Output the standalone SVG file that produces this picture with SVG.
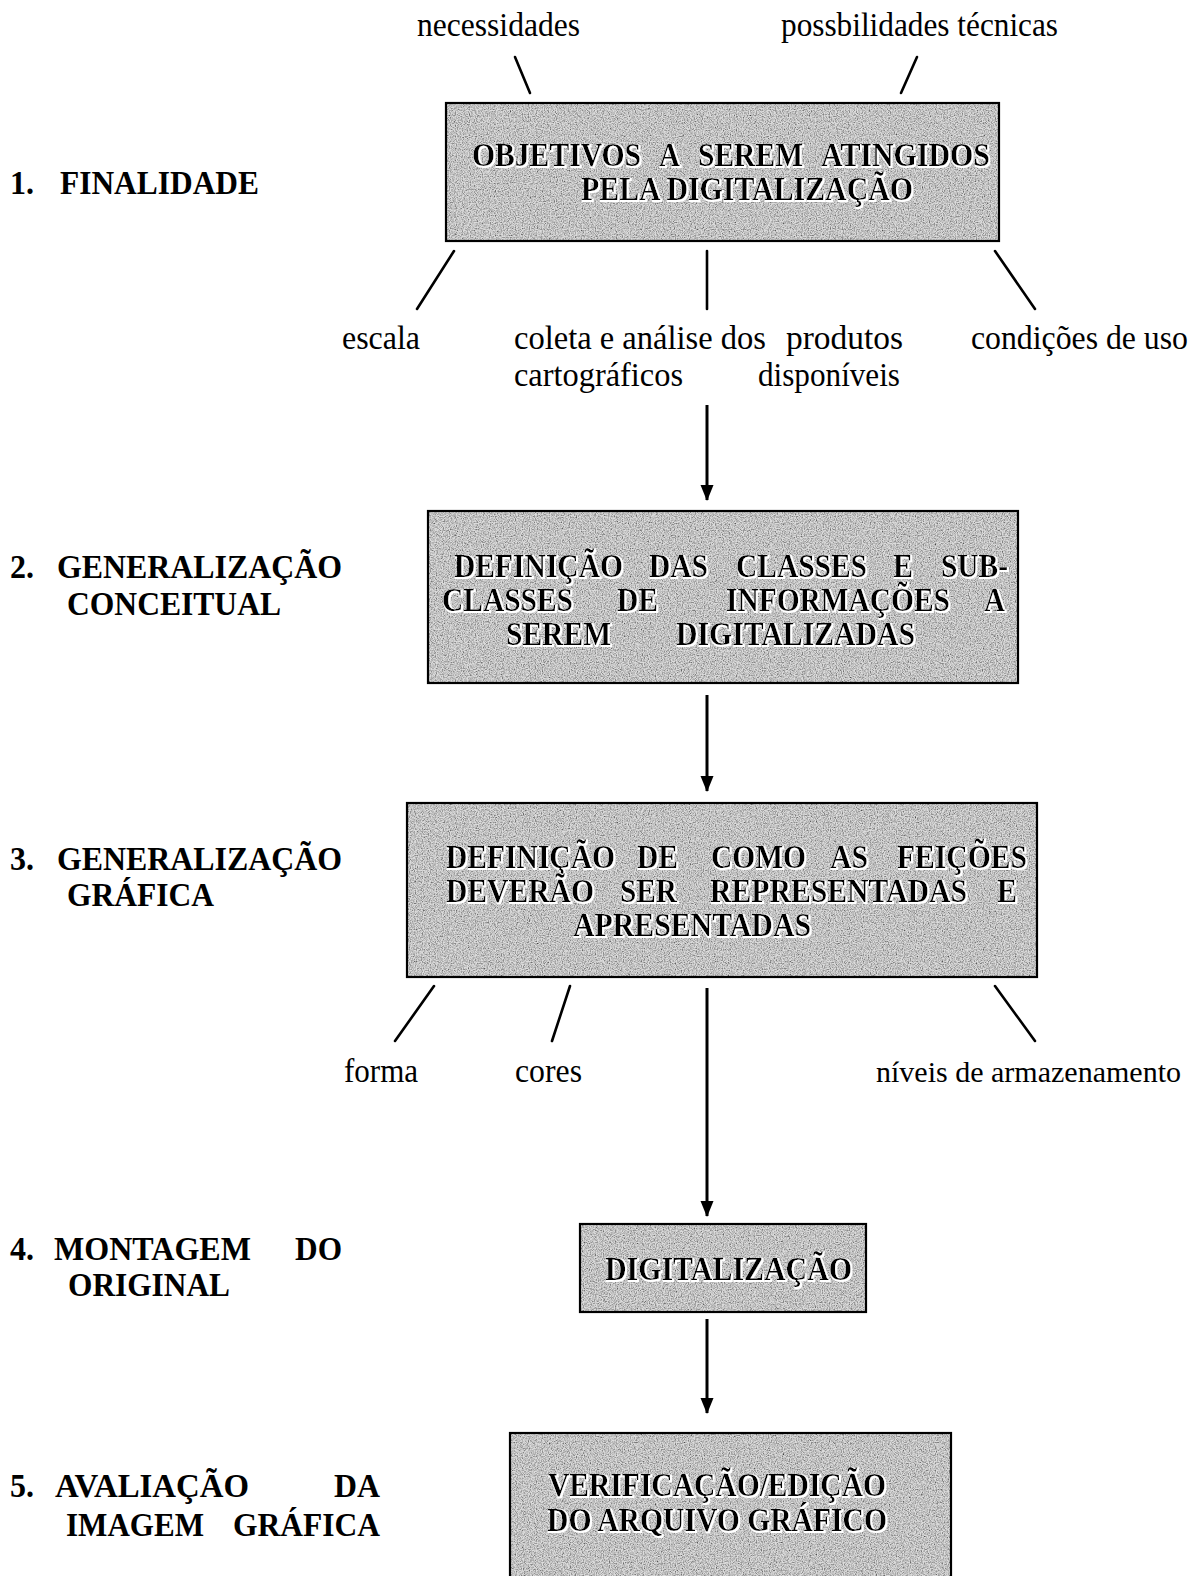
<svg xmlns="http://www.w3.org/2000/svg" width="1198" height="1576" viewBox="0 0 1198 1576">
<style>
.lbl{font-family:"Liberation Serif","Times New Roman",serif;font-weight:bold;font-size:33px;fill:#000}
.box{font-family:"Liberation Serif","Times New Roman",serif;font-weight:bold;font-size:33px;fill:#000;filter:url(#emb)}
.sm{font-family:"Liberation Serif","Times New Roman",serif;font-size:33px;fill:#000}
.bg{fill:#dcdcdc;stroke:none;filter:url(#grain)}
.bd{fill:none;stroke:#000;stroke-width:2.2}
.ln{stroke:#000;stroke-width:2.6;fill:none;stroke-linecap:round}
.ar{stroke:#000;stroke-width:3;fill:none;marker-end:url(#ah)}
</style>
<defs>
<marker id="ah" markerUnits="userSpaceOnUse" markerWidth="16" markerHeight="16" viewBox="0 0 16 16" refX="15" refY="8" orient="auto">
<path d="M0,1.5 L16,8 L0,14.5 Z" fill="#000"/>
</marker>
<filter id="grain" x="0" y="0" width="1" height="1">
<feTurbulence type="fractalNoise" baseFrequency="0.85" numOctaves="2" seed="4" result="t"/>
<feColorMatrix in="t" type="matrix" values="0 0 0 0 0  0 0 0 0 0  0 0 0 0 0  1.7 0 0 0 -0.6" result="dots"/>
<feComposite in="dots" in2="SourceGraphic" operator="atop"/>
</filter>
<filter id="emb" x="-5%" y="-20%" width="110%" height="140%">
<feMorphology in="SourceAlpha" operator="dilate" radius="1" result="d"/>
<feOffset in="d" dx="1.2" dy="1.2" result="o"/>
<feFlood flood-color="#ffffff"/>
<feComposite in2="o" operator="in" result="w"/>
<feMerge><feMergeNode in="w"/><feMergeNode in="SourceGraphic"/></feMerge>
</filter>
</defs>
<rect width="1198" height="1576" fill="#fff"/>

<g id="labels-left">
<text class="lbl" y="194"><tspan x="10" textLength="24" lengthAdjust="spacingAndGlyphs">1.</tspan><tspan x="60" textLength="199" lengthAdjust="spacingAndGlyphs">FINALIDADE</tspan></text>
<text class="lbl" y="578"><tspan x="10" textLength="24" lengthAdjust="spacingAndGlyphs">2.</tspan><tspan x="57" textLength="285" lengthAdjust="spacingAndGlyphs">GENERALIZAÇÃO</tspan></text>
<text class="lbl" x="67" y="615" textLength="214" lengthAdjust="spacingAndGlyphs">CONCEITUAL</text>
<text class="lbl" y="870"><tspan x="10" textLength="24" lengthAdjust="spacingAndGlyphs">3.</tspan><tspan x="57" textLength="285" lengthAdjust="spacingAndGlyphs">GENERALIZAÇÃO</tspan></text>
<text class="lbl" x="67" y="906" textLength="147" lengthAdjust="spacingAndGlyphs">GRÁFICA</text>
<text class="lbl" y="1260"><tspan x="10" textLength="24" lengthAdjust="spacingAndGlyphs">4.</tspan><tspan x="54" textLength="197" lengthAdjust="spacingAndGlyphs">MONTAGEM</tspan><tspan x="295" textLength="47" lengthAdjust="spacingAndGlyphs">DO</tspan></text>
<text class="lbl" x="68" y="1296" textLength="162" lengthAdjust="spacingAndGlyphs">ORIGINAL</text>
<text class="lbl" y="1497"><tspan x="10" textLength="24" lengthAdjust="spacingAndGlyphs">5.</tspan><tspan x="55" textLength="194" lengthAdjust="spacingAndGlyphs">AVALIAÇÃO</tspan><tspan x="334" textLength="46" lengthAdjust="spacingAndGlyphs">DA</tspan></text>
<text class="lbl" y="1536"><tspan x="66" textLength="138" lengthAdjust="spacingAndGlyphs">IMAGEM</tspan><tspan x="233" textLength="147" lengthAdjust="spacingAndGlyphs">GRÁFICA</tspan></text>
</g>

<g id="node-objetivos">
<rect class="bg" x="446" y="103" width="553" height="138"/>
<rect class="bd" x="446" y="103" width="553" height="138"/>
<text class="box" y="166"><tspan x="472" textLength="169" lengthAdjust="spacingAndGlyphs">OBJETIVOS</tspan><tspan x="659" textLength="21" lengthAdjust="spacingAndGlyphs">A</tspan><tspan x="698" textLength="105" lengthAdjust="spacingAndGlyphs">SEREM</tspan><tspan x="821" textLength="169" lengthAdjust="spacingAndGlyphs">ATINGIDOS</tspan></text>
<text class="box" x="581" y="200" textLength="332" lengthAdjust="spacingAndGlyphs">PELA DIGITALIZAÇÃO</text>
</g>

<g id="node-classes">
<rect class="bg" x="428" y="511" width="590" height="172"/>
<rect class="bd" x="428" y="511" width="590" height="172"/>
<text class="box" y="577"><tspan x="454" textLength="169" lengthAdjust="spacingAndGlyphs">DEFINIÇÃO</tspan><tspan x="649" textLength="59" lengthAdjust="spacingAndGlyphs">DAS</tspan><tspan x="736" textLength="131" lengthAdjust="spacingAndGlyphs">CLASSES</tspan><tspan x="893" textLength="20" lengthAdjust="spacingAndGlyphs">E</tspan><tspan x="941" textLength="67" lengthAdjust="spacingAndGlyphs">SUB-</tspan></text>
<text class="box" y="611"><tspan x="442" textLength="131" lengthAdjust="spacingAndGlyphs">CLASSES</tspan><tspan x="617" textLength="41" lengthAdjust="spacingAndGlyphs">DE</tspan><tspan x="726" textLength="224" lengthAdjust="spacingAndGlyphs">INFORMAÇÕES</tspan><tspan x="984" textLength="21" lengthAdjust="spacingAndGlyphs">A</tspan></text>
<text class="box" y="645"><tspan x="506" textLength="105" lengthAdjust="spacingAndGlyphs">SEREM</tspan><tspan x="676" textLength="239" lengthAdjust="spacingAndGlyphs">DIGITALIZADAS</tspan></text>
</g>

<g id="node-feicoes">
<rect class="bg" x="407" y="803" width="630" height="174"/>
<rect class="bd" x="407" y="803" width="630" height="174"/>
<text class="box" y="868"><tspan x="446" textLength="169" lengthAdjust="spacingAndGlyphs">DEFINIÇÃO</tspan><tspan x="637" textLength="41" lengthAdjust="spacingAndGlyphs">DE</tspan><tspan x="711" textLength="95" lengthAdjust="spacingAndGlyphs">COMO</tspan><tspan x="830" textLength="38" lengthAdjust="spacingAndGlyphs">AS</tspan><tspan x="897" textLength="130" lengthAdjust="spacingAndGlyphs">FEIÇÕES</tspan></text>
<text class="box" y="902"><tspan x="446" textLength="148" lengthAdjust="spacingAndGlyphs">DEVERÃO</tspan><tspan x="620" textLength="57" lengthAdjust="spacingAndGlyphs">SER</tspan><tspan x="710" textLength="257" lengthAdjust="spacingAndGlyphs">REPRESENTADAS</tspan><tspan x="997" textLength="20" lengthAdjust="spacingAndGlyphs">E</tspan></text>
<text class="box" x="573" y="936" textLength="238" lengthAdjust="spacingAndGlyphs">APRESENTADAS</text>
</g>

<g id="node-digitalizacao">
<rect class="bg" x="580" y="1224" width="286" height="88"/>
<rect class="bd" x="580" y="1224" width="286" height="88"/>
<text class="box" x="605" y="1280" textLength="247" lengthAdjust="spacingAndGlyphs">DIGITALIZAÇÃO</text>
</g>

<g id="node-verificacao">
<rect class="bg" x="510" y="1433" width="441" height="170"/>
<rect class="bd" x="510" y="1433" width="441" height="170"/>
<text class="box" x="548" y="1496" textLength="338" lengthAdjust="spacingAndGlyphs">VERIFICAÇÃO/EDIÇÃO</text>
<text class="box" x="547" y="1531" textLength="340" lengthAdjust="spacingAndGlyphs">DO ARQUIVO GRÁFICO</text>
</g>

<g id="labels-small">
<text class="sm" x="417" y="36" textLength="163" lengthAdjust="spacingAndGlyphs">necessidades</text>
<text class="sm" x="781" y="36" textLength="277" lengthAdjust="spacingAndGlyphs">possbilidades técnicas</text>
<text class="sm" x="342" y="349" textLength="78" lengthAdjust="spacingAndGlyphs">escala</text>
<text class="sm" y="349"><tspan x="514" textLength="252" lengthAdjust="spacingAndGlyphs">coleta e análise dos</tspan><tspan x="786" textLength="117" lengthAdjust="spacingAndGlyphs">produtos</tspan></text>
<text class="sm" y="386"><tspan x="514" textLength="169" lengthAdjust="spacingAndGlyphs">cartográficos</tspan><tspan x="758" textLength="142" lengthAdjust="spacingAndGlyphs">disponíveis</tspan></text>
<text class="sm" x="971" y="349" textLength="217" lengthAdjust="spacingAndGlyphs">condições de uso</text>
<text class="sm" x="344" y="1082" textLength="74" lengthAdjust="spacingAndGlyphs">forma</text>
<text class="sm" x="515" y="1082" textLength="67" lengthAdjust="spacingAndGlyphs">cores</text>
<text class="sm" x="876" y="1082" style="font-size:30px" textLength="305" lengthAdjust="spacingAndGlyphs">níveis de armazenamento</text>
</g>

<g id="connectors">
<line class="ln" x1="515" y1="57" x2="530" y2="93"/>
<line class="ln" x1="917" y1="57" x2="901" y2="93"/>
<line class="ln" x1="454" y1="251" x2="417" y2="309"/>
<line class="ln" x1="707" y1="251" x2="707" y2="309"/>
<line class="ln" x1="995" y1="251" x2="1035" y2="309"/>
<line class="ar" x1="707" y1="405" x2="707" y2="500"/>
<line class="ar" x1="707" y1="695" x2="707" y2="791"/>
<line class="ln" x1="434" y1="986" x2="395" y2="1041"/>
<line class="ln" x1="570" y1="986" x2="552" y2="1041"/>
<line class="ln" x1="995" y1="986" x2="1035" y2="1041"/>
<line class="ar" x1="707" y1="988" x2="707" y2="1216"/>
<line class="ar" x1="707" y1="1319" x2="707" y2="1413"/>
</g>
</svg>
